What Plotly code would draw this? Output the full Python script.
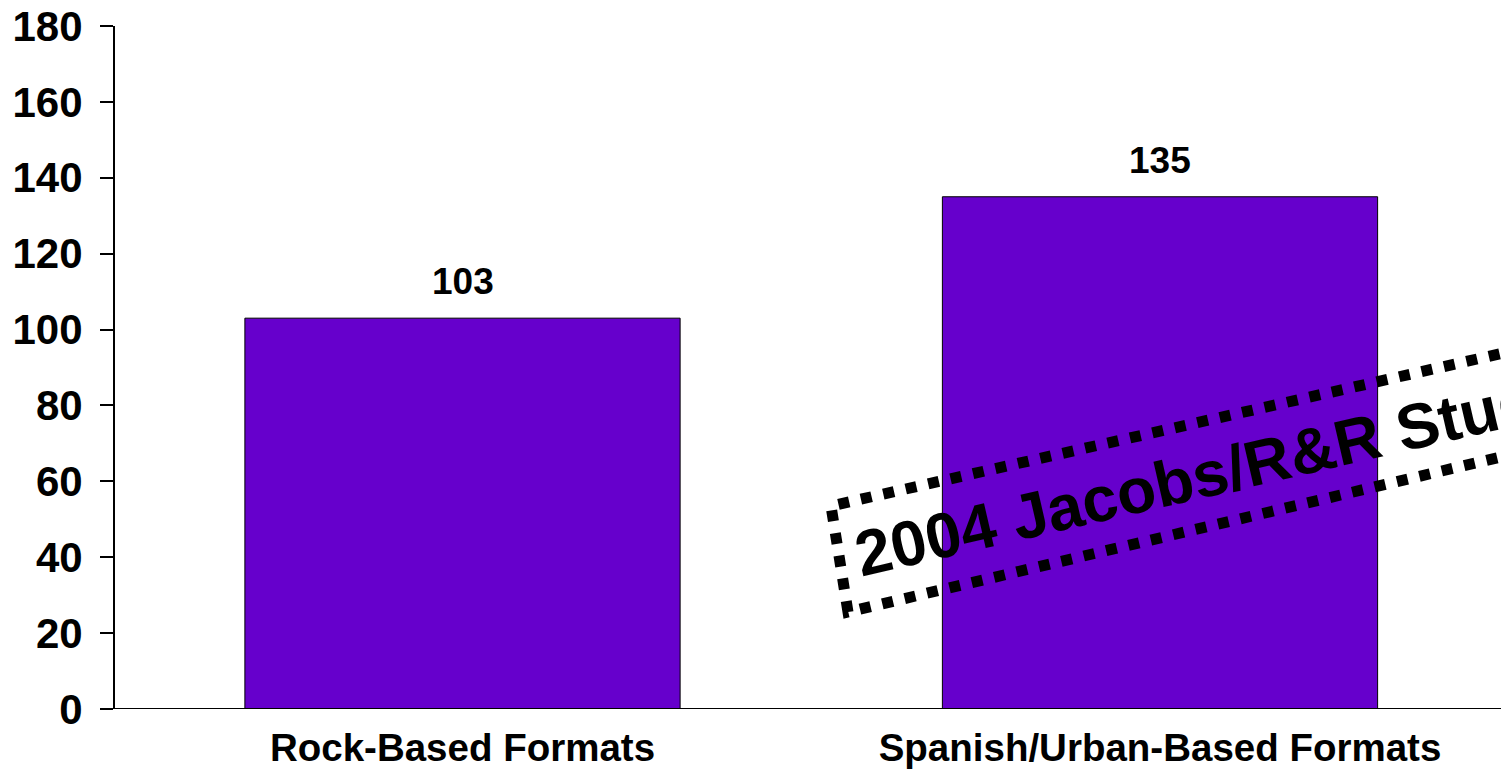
import plotly.graph_objects as go

categories = ["Rock-Based Formats", "Spanish/Urban-Based Formats"]
values = [103, 135]
y_ticks = [0, 20, 40, 60, 80, 100, 120, 140, 160, 180]
stamp_text = "2004 Jacobs/R&R Study"

BAR = "#6600CC"
FONT = "Arial, Liberation Sans, sans-serif"

W, H = 1501, 773
L, T = 115, 26
B = 64
plot_w = W - L
plot_h = H - T - B

def px(x):
    return (x - L) / plot_w

def py(y):
    return (H - B - y) / plot_h

fig = go.Figure()
fig.add_trace(go.Bar(
    x=[0, 1], y=values, width=0.624,
    marker=dict(color=BAR, line=dict(color="black", width=1)),
    hoverinfo="skip",
))

for i, v in enumerate(values):
    fig.add_annotation(x=i, y=v, xref="x", yref="y", text=f"<b>{v}</b>",
                       showarrow=False, yanchor="bottom", yshift=14,
                       font=dict(family=FONT, size=37, color="black"))

# x axis baseline extending to tick end
fig.add_shape(type="line", xref="paper", yref="y", x0=-13 / plot_w, x1=1.2, y0=0, y1=0,
              line=dict(color="black", width=2), layer="above")

# stamp border (parallelogram, right side beyond the page)
tl = (831, 506)
bl = (848, 612)
tr = (1600, 506 - 0.2275 * (1600 - 831))
br = (1600, 612 - 0.2375 * (1600 - 848))
path = (f"M {px(bl[0])},{py(bl[1])} L {px(tl[0])},{py(tl[1])} "
        f"L {px(tr[0])},{py(tr[1])} L {px(br[0])},{py(br[1])} Z")
fig.add_shape(type="path", xref="paper", yref="paper", path=path,
              line=dict(color="black", width=11, dash="11px,12px"), layer="above")

fig.add_annotation(xref="paper", yref="paper", x=px(1213), y=py(473),
                   text=f"<b>{stamp_text}</b>", showarrow=False, textangle=-13,
                   xanchor="center", yanchor="middle",
                   font=dict(family=FONT, size=64, color="black"))

fig.update_layout(
    width=W, height=H,
    margin=dict(l=L, r=0, t=T, b=B, pad=0),
    paper_bgcolor="white", plot_bgcolor="white",
    showlegend=False,
    font=dict(family=FONT, color="black"),
    xaxis=dict(
        range=[(L - 462.5) / 697.5, (W - 462.5) / 697.5],
        tickmode="array", tickvals=[0, 1],
        ticktext=[f"<b>{c}</b>" for c in categories],
        tickfont=dict(family=FONT, size=38.5, color="black"),
        ticks="", showline=False, showgrid=False, zeroline=False,
        ticklabelstandoff=12,
    ),
    yaxis=dict(
        range=[0, 180], tickmode="array", tickvals=y_ticks,
        ticktext=[f"<b>{t}</b>" for t in y_ticks],
        tickfont=dict(family=FONT, size=42, color="black"),
        ticks="outside", ticklen=13, tickwidth=2, tickcolor="black",
        showline=True, linecolor="black", linewidth=2,
        showgrid=False, zeroline=False,
        ticklabelstandoff=9,
    ),
)

fig.write_html("out.html")
